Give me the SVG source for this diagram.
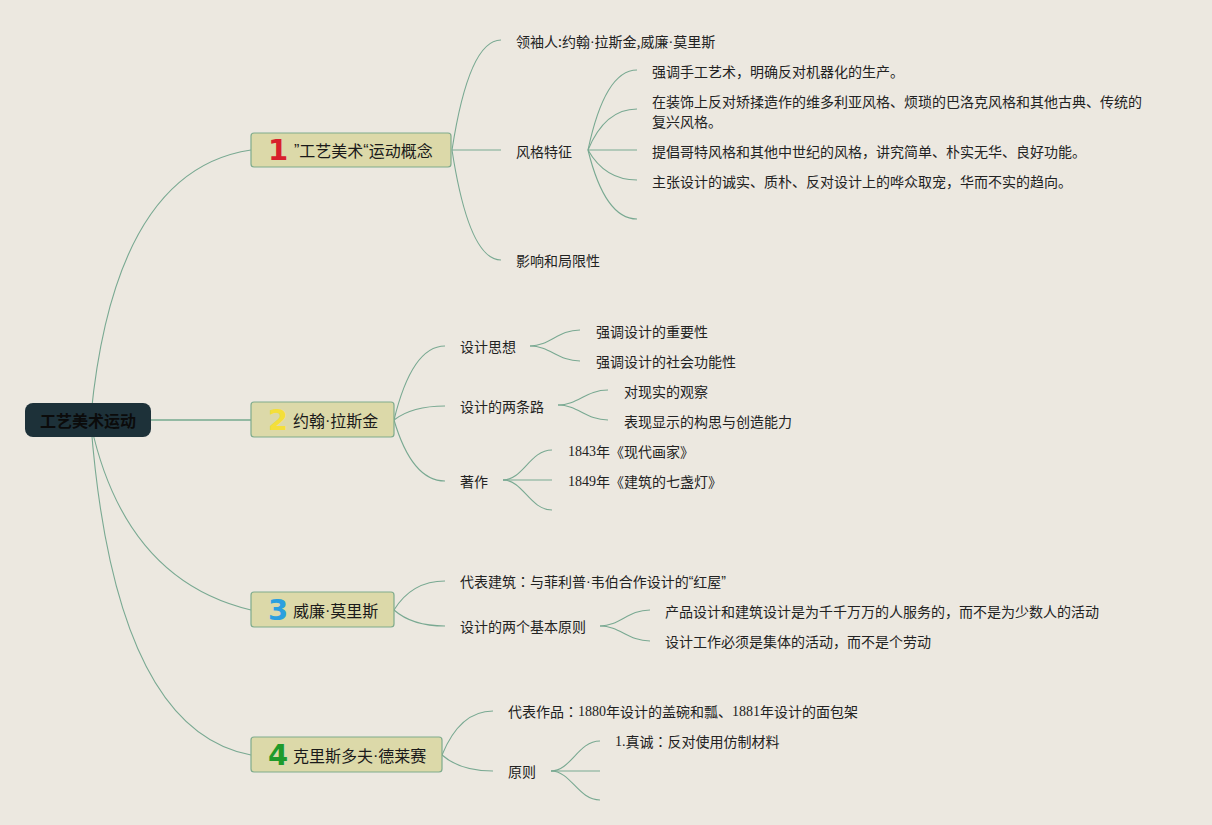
<svg xmlns="http://www.w3.org/2000/svg" width="1212" height="825" viewBox="0 0 1212 825">
<style>
.c{fill:none;stroke:#79a992;stroke-width:1.1}
.t{font-family:"Noto Sans CJK SC","Liberation Sans",sans-serif;font-size:14px;fill:#222;dominant-baseline:central}
.s{font-family:"Liberation Serif",serif}
.d{font-family:"Liberation Sans",sans-serif}
.k{font-family:"Noto Sans CJK TC",sans-serif}
.n{fill:#dcd9a9;stroke:#7fab8c;stroke-width:1.2}
.nt{font-family:"Noto Sans CJK SC","Liberation Sans",sans-serif;font-size:16px;fill:#1a1a1a;dominant-baseline:central}
.num{font-family:"DejaVu Sans","Liberation Sans",sans-serif;font-weight:bold;font-size:29px;text-anchor:middle;dominant-baseline:central}
</style>
<rect width="1212" height="825" fill="#ece8e0"/>
<g id="connectors">
<path d="M151 420 H251" fill="none" stroke="#93b9a3" stroke-width="2"/>
<path class="c" d="M91 415 Q115 170 251 150"/>
<path class="c" d="M91 425 Q125 580 251 610"/>
<path class="c" d="M91 425 Q115 730 251 755"/>
<path class="c" d="M452 150 Q469 40 501 40"/>
<path class="c" d="M452 150 H501"/>
<path class="c" d="M452 150 Q469 260 501 260"/>
<path class="c" d="M588 150 Q605 70 637 70"/>
<path class="c" d="M588 150 Q605 109 637 109"/>
<path class="c" d="M588 150 H637"/>
<path class="c" d="M588 150 Q605 180 637 180"/>
<path class="c" d="M588 150 Q605 219 637 219"/>
<path class="c" d="M394 420 Q412 346 445 346"/>
<path class="c" d="M394 420 Q412 406 445 406"/>
<path class="c" d="M394 420 Q412 481 445 481"/>
<path class="c" d="M530 346 C550 346 558 330 580 330"/>
<path class="c" d="M530 346 C550 346 558 361 580 361"/>
<path class="c" d="M558 405 C578 405 586 390 608 390"/>
<path class="c" d="M558 405 C578 405 586 420 608 420"/>
<path class="c" d="M503 480 C523 480 530 450 552 450"/>
<path class="c" d="M503 480 H552"/>
<path class="c" d="M503 480 C523 480 530 510 552 510"/>
<path class="c" d="M394 610 Q412 581 445 581"/>
<path class="c" d="M394 610 Q412 626 445 626"/>
<path class="c" d="M600 626 C620 626 628 610 650 610"/>
<path class="c" d="M600 626 C620 626 628 641 650 641"/>
<path class="c" d="M442 755 Q460 711 493 711"/>
<path class="c" d="M442 755 Q460 771 493 771"/>
<path class="c" d="M551 771 C571 771 578 741 600 741"/>
<path class="c" d="M551 771 H600"/>
<path class="c" d="M551 771 C571 771 578 800 600 800"/>
</g>
<g id="root">
<rect x="25" y="403" width="126" height="34" rx="8" fill="#1d3139"/>
<text x="88" y="420" text-anchor="middle" font-family="Noto Sans CJK SC, sans-serif" font-weight="bold" font-size="16" fill="#0b0b0b" dominant-baseline="central">工艺美术运动</text>
</g>
<g id="n1">
<rect class="n" x="251" y="133" width="200" height="34" rx="3"/>
<text class="num" x="278" y="150" fill="#d8202c">1</text>
<text class="nt" x="294" y="150"><tspan class="d">”</tspan>工艺美术<tspan class="d">“</tspan>运动概念</text>
</g>
<g id="n2">
<rect class="n" x="251" y="402" width="143" height="35" rx="3"/>
<text class="num" x="278" y="420" fill="#f4df3a">2</text>
<text class="nt" x="293" y="420">约翰<tspan class="d">·</tspan>拉斯金</text>
</g>
<g id="n3">
<rect class="n" x="251" y="592" width="143" height="35" rx="3"/>
<text class="num" x="278" y="610" fill="#2b9fdf">3</text>
<text class="nt" x="293" y="610">威廉<tspan class="d">·</tspan>莫里斯</text>
</g>
<g id="n4">
<rect class="n" x="251" y="737" width="191" height="35" rx="3"/>
<text class="num" x="278" y="755" fill="#1f9a2b">4</text>
<text class="nt" x="293" y="755">克里斯多夫<tspan class="d">·</tspan>德莱赛</text>
</g>
<g id="n1-children">
<text class="t" x="516" y="41">领袖人:约翰<tspan class="d">·</tspan>拉斯金,威廉<tspan class="d">·</tspan>莫里斯</text>
<text class="t" x="516" y="151">风格特征</text>
<text class="t" x="516" y="260">影响和局限性</text>
<text class="t" x="652" y="71">强调手工艺术，明确反对机器化的生产。</text>
<text class="t" x="652" y="101">在装饰上反对矫揉造作的维多利亚风格、烦琐的巴洛克风格和其他古典、传统的</text>
<text class="t" x="652" y="121">复兴风格。</text>
<text class="t" x="652" y="151">提倡哥特风格和其他中世纪的风格，讲究简单、朴实无华、良好功能。</text>
<text class="t" x="652" y="181">主张设计的诚实、质朴、反对设计上的哗众取宠，华而不实的趋向。</text>
</g>
<g id="n2-children">
<text class="t" x="460" y="346">设计思想</text>
<text class="t" x="460" y="406">设计的两条路</text>
<text class="t" x="460" y="481">著作</text>
<text class="t" x="596" y="331">强调设计的重要性</text>
<text class="t" x="596" y="361">强调设计的社会功能性</text>
<text class="t" x="624" y="391">对现实的观察</text>
<text class="t" x="624" y="421">表现显示的构思与创造能力</text>
<text class="t" x="568" y="451"><tspan class="s">1843</tspan>年《现代画家》</text>
<text class="t" x="568" y="481"><tspan class="s">1849</tspan>年《建筑的七盏灯》</text>
</g>
<g id="n3-children">
<text class="t" x="460" y="581">代表建筑<tspan class="k">：</tspan>与菲利普<tspan class="d">·</tspan>韦伯合作设计的<tspan class="d">“</tspan>红屋<tspan class="d">”</tspan></text>
<text class="t" x="460" y="626">设计的两个基本原则</text>
<text class="t" x="665" y="611">产品设计和建筑设计是为千千万万的人服务的，而不是为少数人的活动</text>
<text class="t" x="665" y="641">设计工作必须是集体的活动，而不是个劳动</text>
</g>
<g id="n4-children">
<text class="t" x="508" y="711">代表作品<tspan class="k">：</tspan><tspan class="s">1880</tspan>年设计的盖碗和瓢、<tspan class="s">1881</tspan>年设计的面包架</text>
<text class="t" x="508" y="771">原则</text>
<text class="t" x="615" y="741"><tspan class="s">1.</tspan>真诚<tspan class="k">：</tspan>反对使用仿制材料</text>
</g>
</svg>
